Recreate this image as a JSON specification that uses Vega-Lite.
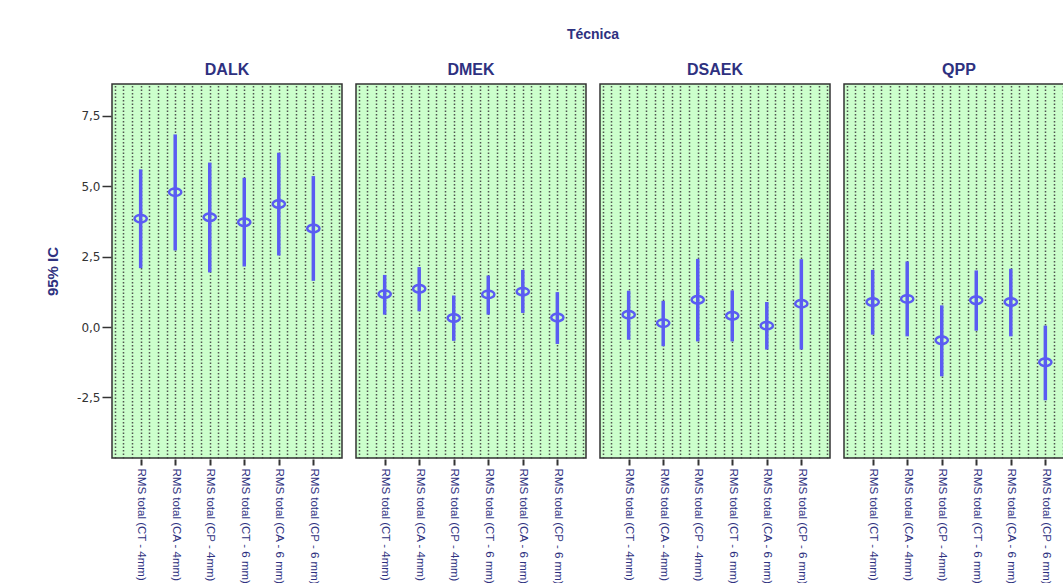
{
  "$schema": "https://vega.github.io/schema/vega-lite/v6.json",
  "padding": {"left": 45, "top": 28, "right": 0, "bottom": 0},
  "background": "white",
  "data": {
    "values": [
      {"tecnica": "DALK", "orden": 1, "medida": "RMS total (CT - 4mm)", "media": 3.85, "inferior": 2.09, "superior": 5.60},
      {"tecnica": "DALK", "orden": 2, "medida": "RMS total (CA - 4mm)", "media": 4.79, "inferior": 2.72, "superior": 6.84},
      {"tecnica": "DALK", "orden": 3, "medida": "RMS total (CP - 4mm)", "media": 3.90, "inferior": 1.94, "superior": 5.84},
      {"tecnica": "DALK", "orden": 4, "medida": "RMS total (CT - 6 mm)", "media": 3.72, "inferior": 2.15, "superior": 5.30},
      {"tecnica": "DALK", "orden": 5, "medida": "RMS total (CA - 6 mm)", "media": 4.37, "inferior": 2.54, "superior": 6.19},
      {"tecnica": "DALK", "orden": 6, "medida": "RMS total (CP - 6 mm)", "media": 3.50, "inferior": 1.64, "superior": 5.36},
      {"tecnica": "DMEK", "orden": 1, "medida": "RMS total (CT - 4mm)", "media": 1.17, "inferior": 0.44, "superior": 1.85},
      {"tecnica": "DMEK", "orden": 2, "medida": "RMS total (CA - 4mm)", "media": 1.36, "inferior": 0.56, "superior": 2.13},
      {"tecnica": "DMEK", "orden": 3, "medida": "RMS total (CP - 4mm)", "media": 0.32, "inferior": -0.49, "superior": 1.12},
      {"tecnica": "DMEK", "orden": 4, "medida": "RMS total (CT - 6 mm)", "media": 1.16, "inferior": 0.44, "superior": 1.83},
      {"tecnica": "DMEK", "orden": 5, "medida": "RMS total (CA - 6 mm)", "media": 1.26, "inferior": 0.50, "superior": 2.03},
      {"tecnica": "DMEK", "orden": 6, "medida": "RMS total (CP - 6 mm)", "media": 0.34, "inferior": -0.60, "superior": 1.24},
      {"tecnica": "DSAEK", "orden": 1, "medida": "RMS total (CT - 4mm)", "media": 0.44, "inferior": -0.45, "superior": 1.29},
      {"tecnica": "DSAEK", "orden": 2, "medida": "RMS total (CA - 4mm)", "media": 0.14, "inferior": -0.68, "superior": 0.93},
      {"tecnica": "DSAEK", "orden": 3, "medida": "RMS total (CP - 4mm)", "media": 0.97, "inferior": -0.51, "superior": 2.42},
      {"tecnica": "DSAEK", "orden": 4, "medida": "RMS total (CT - 6 mm)", "media": 0.40, "inferior": -0.51, "superior": 1.30},
      {"tecnica": "DSAEK", "orden": 5, "medida": "RMS total (CA - 6 mm)", "media": 0.05, "inferior": -0.80, "superior": 0.89},
      {"tecnica": "DSAEK", "orden": 6, "medida": "RMS total (CP - 6 mm)", "media": 0.83, "inferior": -0.80, "superior": 2.41},
      {"tecnica": "QPP", "orden": 1, "medida": "RMS total (CT - 4mm)", "media": 0.89, "inferior": -0.27, "superior": 2.03},
      {"tecnica": "QPP", "orden": 2, "medida": "RMS total (CA - 4mm)", "media": 1.00, "inferior": -0.33, "superior": 2.33},
      {"tecnica": "QPP", "orden": 3, "medida": "RMS total (CP - 4mm)", "media": -0.47, "inferior": -1.75, "superior": 0.77},
      {"tecnica": "QPP", "orden": 4, "medida": "RMS total (CT - 6 mm)", "media": 0.95, "inferior": -0.13, "superior": 2.01},
      {"tecnica": "QPP", "orden": 5, "medida": "RMS total (CA - 6 mm)", "media": 0.89, "inferior": -0.33, "superior": 2.07},
      {"tecnica": "QPP", "orden": 6, "medida": "RMS total (CP - 6 mm)", "media": -1.25, "inferior": -2.60, "superior": 0.05}
    ]
  },
  "facet": {
    "column": {
      "field": "tecnica",
      "type": "nominal",
      "sort": ["DALK", "DMEK", "DSAEK", "QPP"],
      "header": {
        "title": "Técnica",
        "titleFont": "Liberation Sans",
        "titleFontSize": 14,
        "titleFontWeight": "bold",
        "titleColor": "#2e3180",
        "titlePadding": 10,
        "labelFont": "Liberation Sans",
        "labelFontSize": 16,
        "labelFontWeight": "bold",
        "labelColor": "#2e3180",
        "labelPadding": 5
      }
    }
  },
  "spacing": 12,
  "spec": {
    "width": 230,
    "height": 374,
    "layer": [
      {
        "mark": {"type": "point", "opacity": 0},
        "encoding": {
          "x": {
            "field": "orden",
            "type": "quantitative",
            "scale": {"domain": [0.17, 6.83], "nice": false, "zero": false},
            "axis": {
              "orient": "top",
              "values": [0.25, 0.5, 0.75, 1, 1.25, 1.5, 1.75, 2, 2.25, 2.5, 2.75, 3, 3.25, 3.5, 3.75, 4, 4.25, 4.5, 4.75, 5, 5.25, 5.5, 5.75, 6, 6.25, 6.5, 6.75],
              "grid": true,
              "gridDash": [1.5, 2],
              "gridColor": "#404040",
              "gridWidth": 1.5,
              "gridOpacity": 0.9,
              "domain": false,
              "ticks": false,
              "labels": false,
              "title": null
            }
          },
          "y": {"field": "media", "type": "quantitative"}
        }
      },
      {
        "mark": {"type": "rule", "color": "#5a5cf2", "strokeWidth": 3.5},
        "encoding": {
          "x": {
            "field": "orden",
            "type": "quantitative",
            "axis": {
              "orient": "bottom",
              "title": null,
              "values": [1, 2, 3, 4, 5, 6],
              "labelExpr": "['RMS total (CT - 4mm)', 'RMS total (CA - 4mm)', 'RMS total (CP - 4mm)', 'RMS total (CT - 6 mm)', 'RMS total (CA - 6 mm)', 'RMS total (CP - 6 mm)'][datum.value - 1]",
              "labelAngle": 90,
              "labelFont": "Liberation Sans",
              "labelFontSize": 11.5,
              "labelColor": "#2e3180",
              "labelPadding": 3,
              "labelLimit": 0,
              "labelFlush": false,
              "labelOverlap": false,
              "tickSize": 6,
              "tickWidth": 2,
              "tickColor": "#333333",
              "domain": false,
              "grid": false
            }
          },
          "y": {
            "field": "inferior",
            "type": "quantitative",
            "scale": {"domain": [-4.65, 8.63], "nice": false, "zero": false},
            "axis": {
              "title": "95% IC",
              "titleFont": "Liberation Sans",
              "titleFontSize": 15,
              "titleFontWeight": "bold",
              "titleColor": "#2e3180",
              "titlePadding": 16,
              "values": [-2.5, 0, 2.5, 5, 7.5],
              "labelExpr": "replace(replace(format(datum.value, '.1f'), '.', ','), '\u2212', '-')",
              "labelFont": "DejaVu Sans",
              "labelFontSize": 12,
              "labelColor": "#333333",
              "labelPadding": 2,
              "tickSize": 9,
              "tickWidth": 1.5,
              "tickColor": "#333333",
              "domain": false,
              "grid": false
            }
          },
          "y2": {"field": "superior"}
        }
      },
      {
        "mark": {
          "type": "point",
          "shape": "M-1,0A1,0.6,0,1,1,1,0A1,0.6,0,1,1,-1,0Z",
          "filled": false,
          "size": 150,
          "color": "#5a5cf2",
          "strokeWidth": 2.5,
          "opacity": 1
        },
        "encoding": {
          "x": {"field": "orden", "type": "quantitative", "axis": null},
          "y": {"field": "media", "type": "quantitative"}
        }
      }
    ],
    "resolve": {"axis": {"x": "independent"}}
  },
  "config": {
    "view": {"fill": "#ccffcc", "stroke": "#333333", "strokeWidth": 1.5}
  }
}
